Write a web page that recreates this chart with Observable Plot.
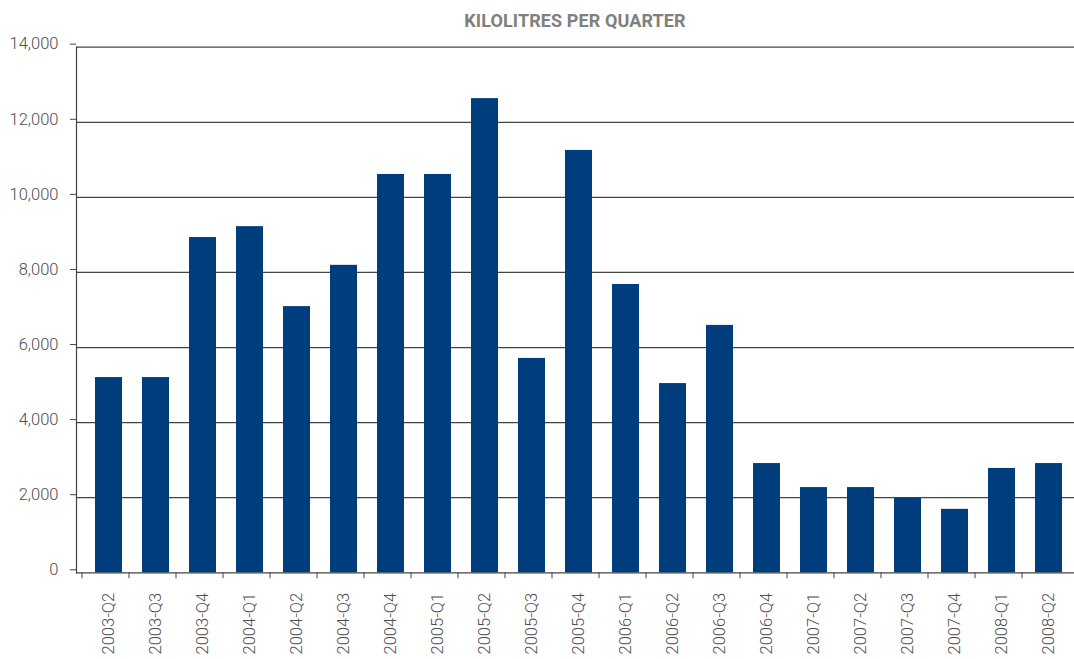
<!DOCTYPE html>
<html>
<head>
<meta charset="utf-8">
<script src="https://cdn.jsdelivr.net/npm/d3@7"></script>
<script src="https://cdn.jsdelivr.net/npm/@observablehq/plot@0.6"></script>
<style>
  html, body { margin: 0; padding: 0; background: #fff; }
  #title {
    width: 1074px; height: 30px; box-sizing: border-box;
    padding: 11px 0 0 76px; text-align: center;
    font: 700 18px Roboto, "DejaVu Sans", sans-serif; line-height: 19px;
    color: #808080; letter-spacing: 0.1px;
  }
  #chart svg { display: block; }
</style>
</head>
<body>
<div id="title">KILOLITRES PER QUARTER</div>
<div id="chart"></div>
<script>
// Quarterly volumes, in kilolitres
const quarters = [
  "2003-Q2", "2003-Q3", "2003-Q4", "2004-Q1", "2004-Q2", "2004-Q3", "2004-Q4",
  "2005-Q1", "2005-Q2", "2005-Q3", "2005-Q4", "2006-Q1", "2006-Q2", "2006-Q3",
  "2006-Q4", "2007-Q1", "2007-Q2", "2007-Q3", "2007-Q4", "2008-Q1", "2008-Q2"
];
const kilolitres = [
  5200, 5200, 8930, 9220, 7090, 8190, 10610,
  10610, 12630, 5710, 11250, 7680, 5040, 6590,
  2910, 2270, 2270, 1980, 1690, 2780, 2910
];
const yTicks = [0, 2000, 4000, 6000, 8000, 10000, 12000, 14000];

const rows = quarters.map((q, i) => ({quarter: q, value: kilolitres[i]}));

const chart = Plot.plot({
  width: 1074,
  height: 629,
  marginTop: 16.7,
  marginBottom: 86.7,
  marginLeft: 76,
  marginRight: 0,
  style: {fontFamily: "Roboto, 'DejaVu Sans', sans-serif", fontSize: "16.5px", fontWeight: 300, color: "#4d4d4d", background: "none"},
  x: {domain: quarters, range: [85, 1072], paddingInner: 0.43, paddingOuter: 0.215, align: 0.5, label: null},
  y: {domain: [0, 14000], label: null},
  marks: [
    Plot.ruleY(yTicks, {stroke: "#444", strokeWidth: 1.2}),
    Plot.barY(rows, {x: "quarter", y: "value", fill: "#003d7d"}),
    Plot.frame({anchor: "left", stroke: "#444", strokeWidth: 1.2}),
    Plot.axisY(yTicks, {tickSize: 6, tickPadding: 12, tickFormat: d3.format(","), stroke: "#444", fill: "#4d4d4d", dy: -3, label: null}),
    Plot.axisX({tickSize: 6, tickFormat: () => "", stroke: "#444", dx: -27, label: null}),
    Plot.axisX({tickSize: 0, tickPadding: 20, tickRotate: -90, fill: "#4d4d4d", label: null})
  ]
});
document.getElementById("chart").appendChild(chart);
</script>
</body>
</html>
